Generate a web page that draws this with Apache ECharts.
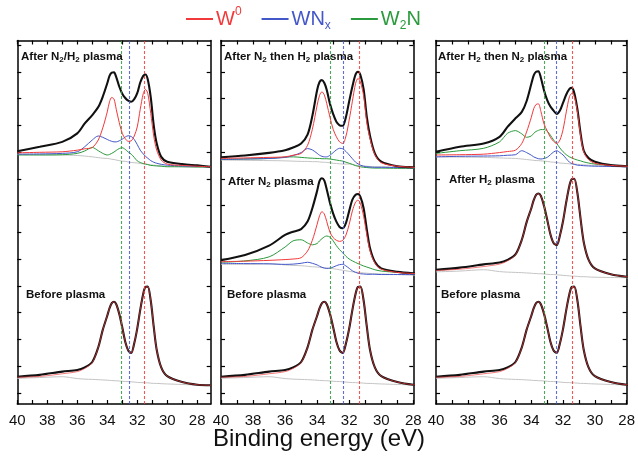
<!DOCTYPE html>
<html><head><meta charset="utf-8">
<script src="https://cdn.jsdelivr.net/npm/echarts@6/dist/echarts.min.js"></script>
<style>html,body{margin:0;padding:0;background:#fff}#c{width:638px;height:462px}</style>
</head><body><div id="c"></div>
<script>
// ---- data (binding energy grid, eV) ----
const energy = [40, 38.5, 37, 36, 35.5, 35, 34.6, 34.3, 34, 33.85, 33.7, 33.55, 33.4, 33.2, 33, 32.8, 32.6, 32.4, 32.2, 32, 31.8, 31.6, 31.45, 31.3, 31.1, 30.9, 30.7, 30.4, 30, 29, 28, 27.1];
const xTicks = [28, 29, 30, 31, 32, 33, 34, 35, 36, 37, 38, 39, 40];
const xLabels = [28, 30, 32, 34, 36, 38, 40];
const yTicks = [0, 1, 2, 3, 4, 5, 6, 7, 8, 9, 10, 11, 12, 13];
const refLinesP1 = [33.05, 32.5, 31.5];   // W2N, WNx, W0
const refLinesP23 = [33.2, 32.4, 31.4];

// Panel 1 top: After N2/H2 plasma
const n2h2Data = [9.03, 9.20, 9.38, 9.70, 10.07, 10.38, 10.68, 11.07, 11.57, 11.85, 11.97, 11.98, 11.8, 11.45, 11.18, 11.02, 10.92, 10.88, 10.98, 11.2, 11.6, 11.85, 11.9, 11.72, 11.05, 10.0, 9.32, 8.82, 8.64, 8.55, 8.50, 8.45];
const n2h2W0 = [8.97, 8.99, 9.01, 9.07, 9.12, 9.17, 9.45, 9.9, 10.50, 10.88, 11.04, 10.98, 10.6, 10.1, 9.70, 9.5, 9.4, 9.42, 9.6, 9.94, 10.6, 11.18, 11.34, 11.2, 10.45, 9.6, 9.07, 8.70, 8.55, 8.50, 8.47, 8.45];
const n2h2WNx = [8.92, 8.93, 8.95, 9.01, 9.20, 9.45, 9.60, 9.55, 9.47, 9.43, 9.40, 9.38, 9.38, 9.42, 9.48, 9.56, 9.61, 9.58, 9.47, 9.28, 9.07, 8.93, 8.84, 8.77, 8.68, 8.62, 8.58, 8.54, 8.51, 8.48, 8.46, 8.45];
const n2h2W2N = [8.89, 8.89, 8.90, 8.95, 9.04, 9.17, 9.05, 8.95, 8.89, 8.91, 8.95, 9.0, 9.06, 9.13, 9.16, 9.10, 9.0, 8.92, 8.80, 8.67, 8.61, 8.57, 8.55, 8.53, 8.50, 8.49, 8.48, 8.47, 8.45, 8.45, 8.44, 8.44];
const n2h2Bg = [8.91, 8.90, 8.89, 8.87, 8.85, 8.82, 8.79, 8.77, 8.76, 8.75, 8.73, 8.72, 8.70, 8.68, 8.66, 8.65, 8.63, 8.61, 8.60, 8.59, 8.57, 8.56, 8.55, 8.54, 8.52, 8.51, 8.50, 8.48, 8.47, 8.45, 8.44, 8.43];

// Panel 2 top: After N2 then H2 plasma
const n2thenH2Data = [8.80, 8.87, 8.97, 9.07, 9.17, 9.32, 9.65, 10.35, 11.32, 11.62, 11.69, 11.58, 11.32, 10.8, 10.42, 10.13, 10.0, 9.98, 10.32, 10.9, 11.45, 11.9, 12.0, 11.88, 11.35, 10.3, 9.6, 8.95, 8.64, 8.47, 8.43, 8.42];
const n2thenH2W0 = [8.76, 8.78, 8.80, 8.82, 8.88, 8.95, 9.25, 9.85, 10.75, 11.12, 11.25, 11.13, 10.81, 10.3, 9.85, 9.57, 9.38, 9.32, 9.6, 10.2, 10.9, 11.57, 11.75, 11.62, 11.1, 10.1, 9.5, 8.90, 8.60, 8.47, 8.43, 8.42];
const n2thenH2WNx = [8.72, 8.74, 8.76, 8.80, 8.87, 8.98, 9.13, 9.08, 8.95, 8.88, 8.84, 8.82, 8.82, 8.88, 8.98, 9.08, 9.14, 9.12, 9.02, 8.89, 8.75, 8.62, 8.56, 8.51, 8.47, 8.45, 8.44, 8.43, 8.43, 8.42, 8.41, 8.41];
const n2thenH2W2N = [8.72, 8.74, 8.76, 8.81, 8.82, 8.80, 8.78, 8.77, 8.76, 8.76, 8.75, 8.75, 8.75, 8.74, 8.72, 8.70, 8.68, 8.66, 8.62, 8.58, 8.54, 8.49, 8.47, 8.45, 8.43, 8.42, 8.41, 8.40, 8.40, 8.39, 8.39, 8.39];
const n2thenH2Bg = [8.70, 8.69, 8.68, 8.67, 8.66, 8.65, 8.65, 8.64, 8.64, 8.63, 8.62, 8.62, 8.61, 8.60, 8.58, 8.57, 8.56, 8.55, 8.55, 8.55, 8.53, 8.51, 8.50, 8.49, 8.48, 8.47, 8.46, 8.45, 8.45, 8.42, 8.40, 8.40];

// Panel 2 middle: After N2 plasma
const n2Data = [4.96, 5.15, 5.5, 5.9, 6.02, 6.12, 6.4, 6.9, 7.55, 7.92, 8.02, 7.93, 7.6, 7.1, 6.7, 6.4, 6.2, 6.15, 6.35, 6.8, 7.22, 7.4, 7.43, 7.32, 6.9, 6.1, 5.4, 4.9, 4.65, 4.52, 4.47, 4.46];
const n2W0 = [4.90, 4.92, 4.95, 4.98, 5.0, 5.05, 5.3, 5.7, 6.3, 6.62, 6.77, 6.68, 6.4, 6.0, 5.8, 5.7, 5.66, 5.7, 5.9, 6.3, 6.8, 7.13, 7.2, 7.08, 6.6, 5.9, 5.3, 4.85, 4.62, 4.5, 4.46, 4.45];
const n2WNx = [4.84, 4.83, 4.82, 4.80, 4.81, 4.84, 4.88, 4.84, 4.78, 4.73, 4.69, 4.66, 4.65, 4.66, 4.70, 4.75, 4.79, 4.80, 4.74, 4.65, 4.56, 4.50, 4.47, 4.45, 4.44, 4.43, 4.43, 4.43, 4.42, 4.42, 4.42, 4.42];
const n2W2N = [4.88, 4.93, 5.08, 5.45, 5.68, 5.72, 5.6, 5.53, 5.58, 5.68, 5.76, 5.83, 5.86, 5.82, 5.68, 5.5, 5.35, 5.23, 5.1, 5.0, 4.93, 4.87, 4.83, 4.79, 4.74, 4.70, 4.66, 4.6, 4.55, 4.5, 4.46, 4.45];
const n2Bg = [4.80, 4.80, 4.82, 4.78, 4.76, 4.75, 4.73, 4.71, 4.70, 4.69, 4.68, 4.67, 4.66, 4.65, 4.64, 4.62, 4.60, 4.58, 4.56, 4.54, 4.52, 4.51, 4.50, 4.49, 4.48, 4.47, 4.46, 4.45, 4.44, 4.42, 4.40, 4.40];

// Panel 3 top: After H2 then N2 plasma
const h2thenN2Data = [9.01, 9.2, 9.32, 9.57, 9.94, 10.26, 10.5, 10.9, 11.55, 11.87, 12.0, 12.02, 11.78, 11.3, 10.94, 10.7, 10.55, 10.42, 10.55, 10.85, 11.15, 11.36, 11.40, 11.22, 10.6, 9.7, 9.05, 8.78, 8.64, 8.51, 8.47, 8.46];
const h2thenN2W0 = [8.89, 8.90, 8.92, 8.98, 9.02, 9.07, 9.32, 9.75, 10.3, 10.62, 10.78, 10.8, 10.52, 10.05, 9.79, 9.55, 9.40, 9.32, 9.45, 9.85, 10.5, 11.07, 11.19, 11.08, 10.5, 9.6, 9.0, 8.72, 8.58, 8.50, 8.47, 8.46];
const h2thenN2WNx = [8.82, 8.84, 8.85, 8.86, 8.88, 8.90, 9.05, 8.98, 8.88, 8.82, 8.78, 8.75, 8.74, 8.76, 8.80, 8.90, 9.0, 9.05, 8.98, 8.89, 8.75, 8.62, 8.57, 8.54, 8.51, 8.50, 8.49, 8.48, 8.47, 8.46, 8.45, 8.45];
const h2thenN2W2N = [8.95, 9.05, 9.14, 9.38, 9.70, 9.8, 9.68, 9.55, 9.6, 9.7, 9.77, 9.81, 9.84, 9.84, 9.78, 9.63, 9.45, 9.32, 9.15, 9.01, 8.9, 8.82, 8.78, 8.74, 8.70, 8.67, 8.63, 8.59, 8.55, 8.50, 8.47, 8.46];
const h2thenN2Bg = [8.82, 8.81, 8.80, 8.78, 8.77, 8.76, 8.74, 8.72, 8.70, 8.69, 8.68, 8.68, 8.67, 8.66, 8.65, 8.63, 8.62, 8.61, 8.59, 8.58, 8.57, 8.56, 8.55, 8.55, 8.54, 8.53, 8.52, 8.51, 8.50, 8.48, 8.45, 8.44];

// Panel 3 middle: After H2 plasma
const h2Data = [4.60, 4.68, 4.80, 4.87, 4.97, 5.17, 5.72, 6.37, 6.9, 7.2, 7.4, 7.45, 7.36, 6.98, 6.47, 5.93, 5.6, 5.52, 5.88, 6.43, 7.14, 7.75, 7.99, 8.0, 7.47, 6.5, 5.63, 4.98, 4.65, 4.43, 4.34, 4.32];
const h2W0 = [4.57, 4.62, 4.72, 4.81, 4.93, 5.15, 5.71, 6.37, 6.9, 7.2, 7.4, 7.45, 7.36, 6.98, 6.47, 5.93, 5.6, 5.52, 5.88, 6.43, 7.14, 7.75, 7.99, 8.0, 7.47, 6.5, 5.63, 4.98, 4.65, 4.43, 4.34, 4.32];
const h2Bg = [4.52, 4.55, 4.60, 4.53, 4.51, 4.50, 4.49, 4.48, 4.47, 4.46, 4.46, 4.45, 4.45, 4.44, 4.43, 4.42, 4.42, 4.41, 4.40, 4.39, 4.38, 4.37, 4.36, 4.36, 4.35, 4.34, 4.34, 4.33, 4.32, 4.31, 4.30, 4.29];

// Bottom of every panel: Before plasma
const beforeData = [0.60, 0.67, 0.79, 0.85, 0.95, 1.15, 1.7, 2.35, 2.88, 3.16, 3.35, 3.40, 3.31, 2.95, 2.45, 1.91, 1.58, 1.49, 1.85, 2.4, 3.1, 3.7, 3.96, 3.97, 3.45, 2.47, 1.6, 0.95, 0.62, 0.40, 0.30, 0.28];
const beforeW0 = [0.58, 0.61, 0.71, 0.79, 0.91, 1.13, 1.69, 2.35, 2.88, 3.16, 3.35, 3.40, 3.31, 2.95, 2.45, 1.91, 1.58, 1.49, 1.85, 2.4, 3.1, 3.7, 3.96, 3.97, 3.45, 2.47, 1.6, 0.95, 0.62, 0.40, 0.30, 0.28];
const beforeBg = [0.54, 0.57, 0.60, 0.53, 0.51, 0.50, 0.49, 0.48, 0.47, 0.46, 0.46, 0.45, 0.45, 0.44, 0.43, 0.42, 0.42, 0.41, 0.40, 0.39, 0.38, 0.38, 0.37, 0.37, 0.36, 0.35, 0.35, 0.34, 0.33, 0.31, 0.29, 0.28];

// ---- styling ----
const C = {W0: '#f2393b', WNx: '#4457c9', W2N: '#2b9a3c', data: '#111111', bg: '#c4c4c4'};
const FONT = 'Liberation Sans, Arial, sans-serif';

const gridsPx = [
  {left: 17.3, top: 40.5, width: 193.4, height: 363.5},
  {left: 221, top: 40.5, width: 192.3, height: 363.5},
  {left: 436, top: 40.5, width: 192.3, height: 363.5}
];
const xMins = [27.1, 28, 28];

const grid = gridsPx.map(g => Object.assign({show: false}, g));
const xAxis = [], yAxis = [];
gridsPx.forEach((g, p) => {
  ['bottom', 'top'].forEach(pos => {
    xAxis.push({
      type: 'value', gridIndex: p, position: pos, inverse: true, min: xMins[p], max: 40,
      axisLine: {show: true, onZero: false, lineStyle: {color: '#000', width: 1.5}},
      axisTick: {show: true, inside: true, length: 4, customValues: xTicks, lineStyle: {color: '#000', width: 1.2}},
      axisLabel: {show: pos === 'bottom', customValues: xLabels, fontSize: 15, color: '#111', fontFamily: FONT, margin: 9},
      splitLine: {show: false}
    });
  });
  ['left', 'right'].forEach(pos => {
    yAxis.push({
      type: 'value', gridIndex: p, position: pos, min: -0.42, max: 13.17,
      axisLine: {show: true, onZero: false, lineStyle: {color: '#000', width: 1.5}},
      axisTick: {show: true, inside: true, length: 4, customValues: yTicks, lineStyle: {color: '#000', width: 1.2}},
      axisLabel: {show: false},
      splitLine: {show: false}
    });
  });
});

const series = [];
function add(p, name, vals, color, width, z, opacity) {
  series.push({
    type: 'line', name: name, xAxisIndex: p * 2, yAxisIndex: p * 2, z: z,
    data: energy.map((e, i) => [e, vals[i]]),
    showSymbol: false, smooth: 0.3, silent: true,
    color: color, lineStyle: {color: color, width: width, opacity: opacity == null ? 1 : opacity}
  });
}
function addSpectrum(p, d, w0, wnx, w2n, bg) {
  const simple = !wnx;
  add(p, 'bg', bg, C.bg, 1, 2);
  if (w2n) add(p, 'W2N', w2n, C.W2N, 1, 3);
  if (wnx) add(p, 'WNx', wnx, C.WNx, 1, 3);
  add(p, 'data', d, C.data, 2.1, 4);
  add(p, 'W0', w0, C.W0, simple ? 0.9 : 1, 5, simple ? 0.75 : 1);
}
addSpectrum(0, n2h2Data, n2h2W0, n2h2WNx, n2h2W2N, n2h2Bg);
addSpectrum(0, beforeData, beforeW0, null, null, beforeBg);
addSpectrum(1, n2thenH2Data, n2thenH2W0, n2thenH2WNx, n2thenH2W2N, n2thenH2Bg);
addSpectrum(1, n2Data, n2W0, n2WNx, n2W2N, n2Bg);
addSpectrum(1, beforeData, beforeW0, null, null, beforeBg);
addSpectrum(2, h2thenN2Data, h2thenN2W0, h2thenN2WNx, h2thenN2W2N, h2thenN2Bg);
addSpectrum(2, h2Data, h2W0, null, null, h2Bg);
addSpectrum(2, beforeData, beforeW0, null, null, beforeBg);

// dashed reference lines
[refLinesP1, refLinesP23, refLinesP23].forEach((refs, p) => {
  const cols = [C.W2N, C.WNx, C.W0];
  series.push({
    type: 'line', name: 'ref', xAxisIndex: p * 2, yAxisIndex: p * 2, data: [[40, -1]], showSymbol: false,
    lineStyle: {opacity: 0}, silent: true, z: 6,
    markLine: {
      silent: true, symbol: 'none', animation: false, label: {show: false},
      data: refs.map((x, i) => ({xAxis: x, lineStyle: {color: cols[i], type: [3, 2], width: 1.1, opacity: 0.85}}))
    }
  });
});

const richLbl = {
  a: {fontSize: 11.5, fontWeight: 'bold', fontFamily: FONT, color: '#111', lineHeight: 15},
  s: {fontSize: 8, fontWeight: 'bold', fontFamily: FONT, color: '#111', lineHeight: 8, verticalAlign: 'bottom'}
};
function lbl(text, left, top) {
  return {text: text, left: left, top: top, padding: 0, textStyle: {rich: richLbl}};
}
const title = [
  lbl('{a|After N}{s|2}{a|/H}{s|2}{a| plasma}', 21, 49),
  lbl('{a|Before plasma}', 26, 287),
  lbl('{a|After N}{s|2}{a| then H}{s|2}{a| plasma}', 224, 49),
  lbl('{a|After N}{s|2}{a| plasma}', 228, 174),
  lbl('{a|Before plasma}', 227, 287),
  lbl('{a|After H}{s|2}{a| then N}{s|2}{a| plasma}', 438, 49),
  lbl('{a|After H}{s|2}{a| plasma}', 449, 172),
  lbl('{a|Before plasma}', 441, 287),
  {text: 'Binding energy (eV)', left: 'center', top: 427, padding: 0,
   textStyle: {fontSize: 24, fontWeight: 'normal', fontFamily: FONT, color: '#111'}}
];

const legend = {
  data: ['W0', 'WNx', 'W2N'], left: 186, top: 6, icon: 'rect', itemWidth: 27, itemHeight: 2, itemGap: 20,
  selectedMode: false, padding: 0,
  formatter: function (n) {
    if (n === 'W0') return '{r|W}{rs|0}';
    if (n === 'WNx') return '{b|WN}{bs|x}';
    return '{g|W}{gs|2}{g|N}';
  },
  textStyle: {
    padding: [0, 0, 0, -2],
    rich: {
      r: {fontSize: 20, color: C.W0, fontFamily: FONT, lineHeight: 26},
      rs: {fontSize: 12, color: C.W0, fontFamily: FONT, lineHeight: 12, verticalAlign: 'top'},
      b: {fontSize: 20, color: C.WNx, fontFamily: FONT, lineHeight: 26},
      bs: {fontSize: 12, color: C.WNx, fontFamily: FONT, lineHeight: 12, verticalAlign: 'bottom'},
      g: {fontSize: 20, color: C.W2N, fontFamily: FONT, lineHeight: 26},
      gs: {fontSize: 12, color: C.W2N, fontFamily: FONT, lineHeight: 12, verticalAlign: 'bottom'}
    }
  }
};

const chart = echarts.init(document.getElementById('c'), null, {renderer: 'canvas'});
chart.setOption({animation: false, backgroundColor: '#fff', grid, xAxis, yAxis, series, title, legend});
</script>
</body></html>
